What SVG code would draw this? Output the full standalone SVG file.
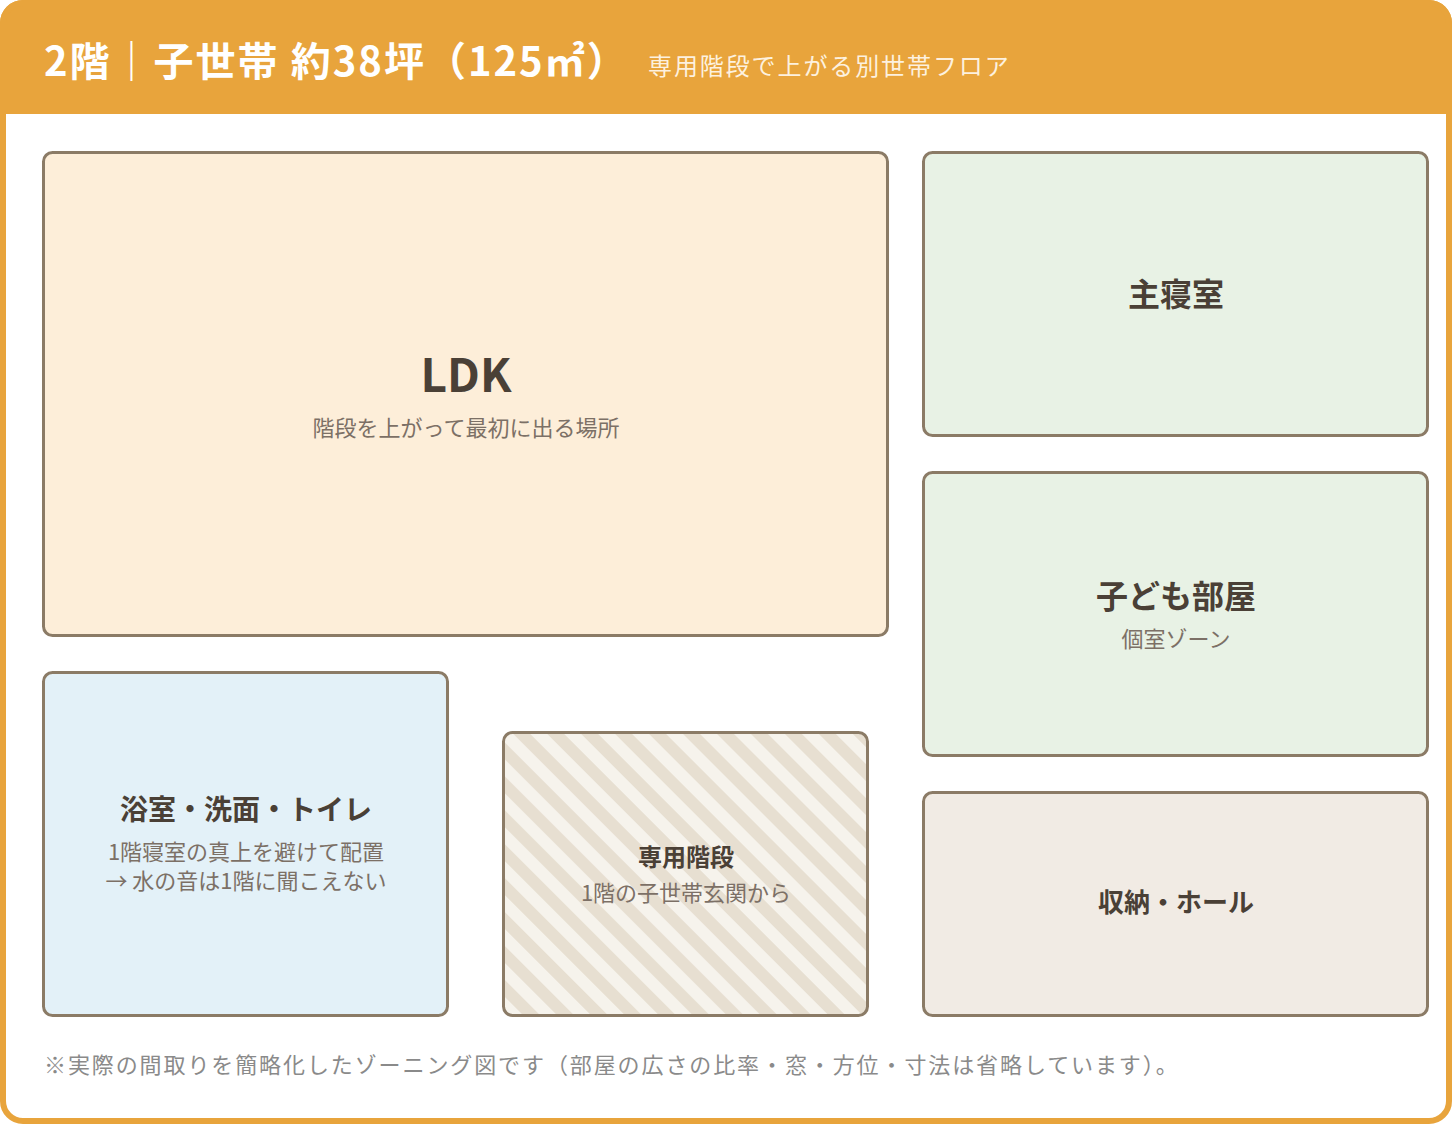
<svg xmlns="http://www.w3.org/2000/svg" width="1452" height="1124" viewBox="0 0 1452 1124">
<style>
  text { font-family: "Noto Sans CJK JP", "Noto Sans", sans-serif; }
  .room { stroke: #8b7b66; stroke-width: 3; }
  .title { font-weight: 700; fill: #4a4036; text-anchor: middle; }
  .sub { font-size: 22px; fill: #7c7066; text-anchor: middle; }
</style>
<defs>
  <pattern id="stripes" patternUnits="userSpaceOnUse" width="24" height="24" patternTransform="rotate(45)">
    <rect width="24" height="24" fill="#f6f3ec"/>
    <rect width="24" height="12" fill="#e7dfd1"/>
  </pattern>
</defs>
<g id="frame">
  <rect x="3" y="3" width="1446" height="1118" rx="20" fill="#ffffff"/>
  <path d="M0 23 A23 23 0 0 1 23 0 H1429 A23 23 0 0 1 1452 23 V114 H0 Z" fill="#e8a43c"/>
  <rect x="3" y="3" width="1446" height="1118" rx="20" fill="none" stroke="#e8a43c" stroke-width="6"/>
</g>
<g id="header">
  <text x="44" y="76" font-size="40" font-weight="700" fill="#ffffff" letter-spacing="2">2階｜子世帯 約38坪（125㎡）</text>
  <text x="648" y="75" font-size="24" fill="#fdf1df" letter-spacing="1.9">専用階段で上がる別世帯フロア</text>
</g>
<g id="connectors"></g>
<g id="ldk">
  <rect class="room" x="43.5" y="152.5" width="844" height="483" rx="9" fill="#fdeed9"/>
  <text class="title" x="466" y="392" font-size="46">LDK</text>
  <text class="sub" x="466" y="436">階段を上がって最初に出る場所</text>
</g>
<g id="master-bedroom">
  <rect class="room" x="923.5" y="152.5" width="504" height="283" rx="9" fill="#e8f2e5"/>
  <text class="title" x="1176" y="306" font-size="32">主寝室</text>
</g>
<g id="kids-room">
  <rect class="room" x="923.5" y="472.5" width="504" height="283" rx="9" fill="#e8f2e5"/>
  <text class="title" x="1176" y="608" font-size="32">子ども部屋</text>
  <text class="sub" x="1176" y="647">個室ゾーン</text>
</g>
<g id="storage-hall">
  <rect class="room" x="923.5" y="792.5" width="504" height="223" rx="9" fill="#f1ebe4"/>
  <text class="title" x="1176" y="912" font-size="26">収納・ホール</text>
</g>
<g id="bath">
  <rect class="room" x="43.5" y="672.5" width="404" height="343" rx="9" fill="#e3f1f8"/>
  <text class="title" x="246" y="820" font-size="28">浴室・洗面・トイレ</text>
  <text class="sub" x="246" y="860">1階寝室の真上を避けて配置</text>
  <text class="sub" x="246" y="889">→ 水の音は1階に聞こえない</text>
</g>
<g id="stairs">
  <rect class="room" x="503.5" y="732.5" width="364" height="283" rx="9" fill="url(#stripes)"/>
  <text class="title" x="686" y="866" font-size="24">専用階段</text>
  <text class="sub" x="686" y="901">1階の子世帯玄関から</text>
</g>
<g id="footer">
  <text x="44" y="1073" font-size="22" fill="#8a8a8a" letter-spacing="1.9">※実際の間取りを簡略化したゾーニング図です（部屋の広さの比率・窓・方位・寸法は省略しています）。</text>
</g>
</svg>
